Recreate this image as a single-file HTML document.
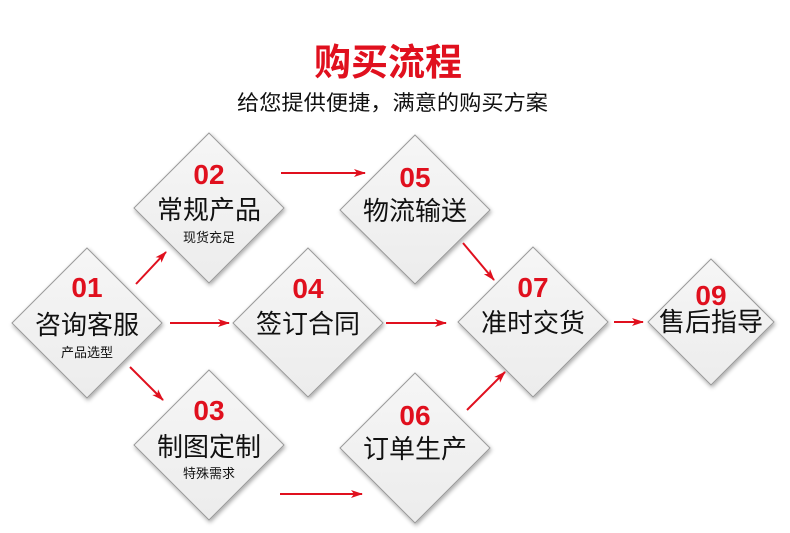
<!DOCTYPE html>
<html><head><meta charset="utf-8"><style>
html,body{margin:0;padding:0;background:#fff;width:790px;height:533px;overflow:hidden}
svg{display:block}
text{font-family:"Liberation Sans","Noto Sans CJK SC",sans-serif}
.n{fill:#e0101e;font-weight:bold;font-size:28px;text-anchor:middle}
.m{fill:#111;font-size:26px;text-anchor:middle}
.s{fill:#111;font-size:13px;text-anchor:middle}
.d{fill:url(#g);stroke:#9a9a9a;stroke-width:1;filter:url(#sh)}
.a{stroke:#e0101e;stroke-width:2;fill:none;marker-end:url(#ah)}
</style></head><body>
<svg width="790" height="533" viewBox="0 0 790 533">
<defs>
<linearGradient id="g" x1="0" y1="0" x2="0" y2="1"><stop offset="0" stop-color="#f6f6f6"/><stop offset="1" stop-color="#ececec"/></linearGradient>
<filter id="sh" x="-20%" y="-20%" width="140%" height="140%"><feDropShadow dx="1" dy="2" stdDeviation="2" flood-color="#000" flood-opacity="0.35"/></filter>
<marker id="ah" markerWidth="12" markerHeight="8" refX="11" refY="4" orient="auto" markerUnits="userSpaceOnUse"><path d="M0,0 L12,4 L0,8 L3,4 Z" fill="#e0101e"/></marker>
</defs>
<text x="388" y="75" style="font-size:37px;font-weight:bold;fill:#e0101e;text-anchor:middle">购买流程</text>
<text x="237" y="110" textLength="311" lengthAdjust="spacingAndGlyphs" style="font-size:21px;fill:#111">给您提供便捷，满意的购买方案</text>

<polygon class="d" points="87,248 162,323 87,398 12,323"/>
<polygon class="d" points="209,133 284,208 209,283 134,208"/>
<polygon class="d" points="209,370 284,445 209,520 134,445"/>
<polygon class="d" points="308,248 383,323 308,397 233,323"/>
<polygon class="d" points="415,135 490,210 415,284 340,210"/>
<polygon class="d" points="415,373 490,448 415,523 340,448"/>
<polygon class="d" points="533,247 608,322 533,397 458,322"/>
<polygon class="d" points="711,259 774,322 711,385 648,322"/>

<text class="n" x="87" y="297">01</text><text class="m" x="87" y="334">咨询客服</text><text class="s" x="87" y="357">产品选型</text>
<text class="n" x="209" y="184">02</text><text class="m" x="209" y="219">常规产品</text><text class="s" x="209" y="242">现货充足</text>
<text class="n" x="209" y="420">03</text><text class="m" x="209" y="456">制图定制</text><text class="s" x="209" y="478">特殊需求</text>
<text class="n" x="308" y="298">04</text><text class="m" x="308" y="333">签订合同</text>
<text class="n" x="415" y="187">05</text><text class="m" x="415" y="220">物流输送</text>
<text class="n" x="415" y="425">06</text><text class="m" x="415" y="458">订单生产</text>
<text class="n" x="533" y="297">07</text><text class="m" x="533" y="332">准时交货</text>
<text class="n" x="711" y="305">09</text><text class="m" x="711" y="331">售后指导</text>

<line class="a" x1="136" y1="284" x2="166" y2="252"/>
<line class="a" x1="170" y1="323" x2="229" y2="323"/>
<line class="a" x1="130" y1="367" x2="163" y2="400"/>
<line class="a" x1="281" y1="173" x2="365" y2="173"/>
<line class="a" x1="386" y1="323" x2="446" y2="323"/>
<line class="a" x1="280" y1="494" x2="362" y2="494"/>
<line class="a" x1="463" y1="243" x2="494" y2="280"/>
<line class="a" x1="467" y1="410" x2="505" y2="372"/>
<line class="a" x1="614" y1="322" x2="643" y2="322"/>
</svg>
</body></html>
